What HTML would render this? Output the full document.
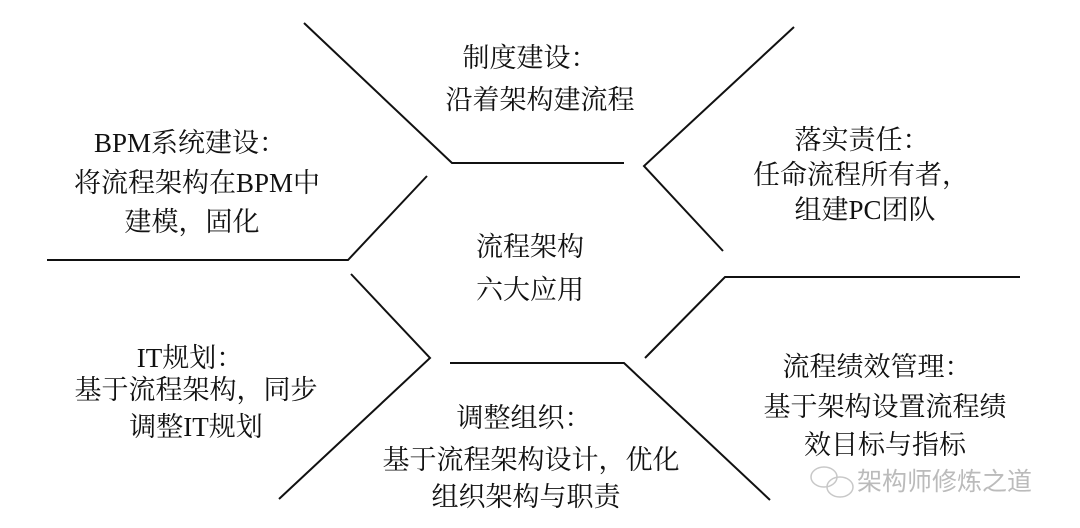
<!DOCTYPE html>
<html><head><meta charset="utf-8"><style>
html,body{margin:0;padding:0;background:#fff;}
svg{display:block;}
text{font-family:"Liberation Serif","Noto Serif CJK SC","Noto Serif CJK JP",serif;font-size:27px;fill:#111;text-anchor:middle;dominant-baseline:central;}
.wm{font-family:"Liberation Sans","Noto Sans CJK SC",sans-serif;fill:#bbb;font-size:25px;text-anchor:start;}
</style></head><body>
<svg width="1080" height="528" viewBox="0 0 1080 528" xmlns="http://www.w3.org/2000/svg">
<g fill="none" stroke="#111" stroke-width="2">
<polyline points="304,23 452,163 624,163"/>
<polyline points="794,27 644,166 723,251"/>
<polyline points="47,260 348,260 427,176"/>
<polyline points="351,274 430,358 279,499"/>
<polyline points="450,363 624,363 770,500"/>
<polyline points="645,358 725,277 1020,277"/>
</g>
<text x="530" y="58">制度建设：</text>
<text x="540" y="100">沿着架构建流程</text>
<text x="190" y="143">BPM系统建设：</text>
<text x="197" y="183">将流程架构在BPM中</text>
<text x="192" y="222">建模，固化</text>
<text x="862" y="140">落实责任：</text>
<text x="861" y="175">任命流程所有者，</text>
<text x="865" y="210">组建PC团队</text>
<text x="530" y="247">流程架构</text>
<text x="530" y="290">六大应用</text>
<text x="190" y="358">IT规划：</text>
<text x="196" y="390">基于流程架构，同步</text>
<text x="196" y="427">调整IT规划</text>
<text x="877" y="367">流程绩效管理：</text>
<text x="885" y="407">基于架构设置流程绩</text>
<text x="885" y="445">效目标与指标</text>
<text x="524" y="418">调整组织：</text>
<text x="531" y="460">基于流程架构设计，优化</text>
<text x="526" y="497">组织架构与职责</text>
<g fill="none" stroke="#c8c8c8" stroke-width="1.5">
<ellipse cx="824" cy="477" rx="13" ry="10"/>
<ellipse cx="840" cy="487" rx="13" ry="10"/>
</g>
<text class="wm" x="857" y="482">架构师修炼之道</text>
</svg>
</body></html>
